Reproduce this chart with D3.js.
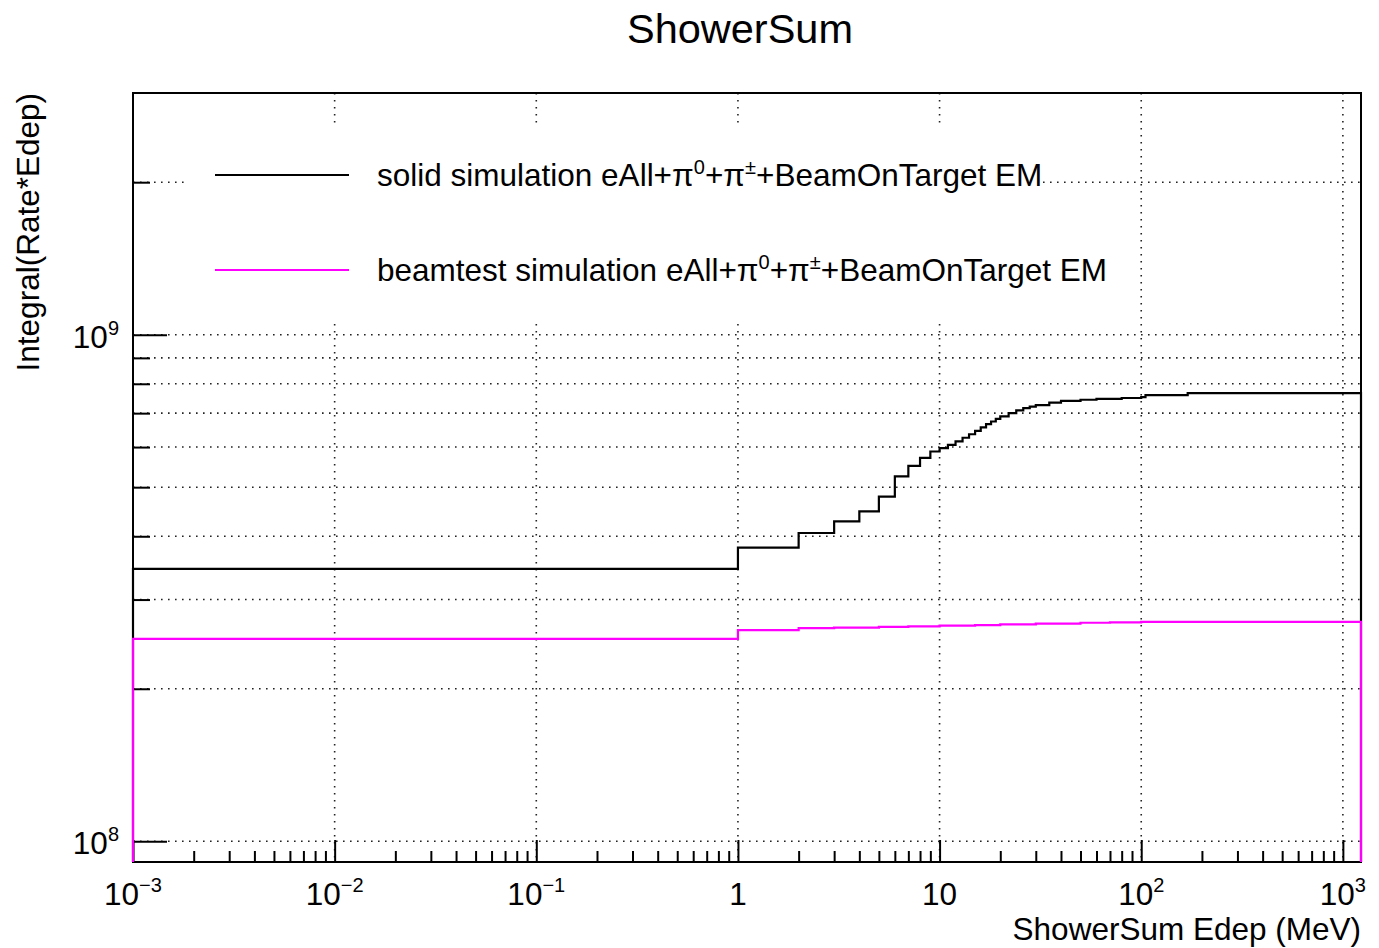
<!DOCTYPE html>
<html>
<head>
<meta charset="utf-8">
<script src="https://cdn.jsdelivr.net/npm/d3@7"></script>
<style>
  html, body { margin: 0; padding: 0; background: #fff; }
  svg { display: block; font-family: "Liberation Sans", Arial, Helvetica, sans-serif; }
</style>
</head>
<body>
<svg id="chart" width="1379" height="948"></svg>
<script>
// Cumulative ShowerSum histograms: bin lower edges (MeV) and integral per bin.
const solidEdges = [0.001, 1, 2, 3, 4, 5, 6, 7, 8, 9, 10, 11, 12, 13, 14, 15, 16, 17, 18, 19,
                    20, 22, 24, 26, 28, 30, 35, 40, 50, 60, 80, 100, 105, 170];
const solidValues = [3.45e8, 3.80e8, 4.06e8, 4.28e8, 4.48e8, 4.79e8, 5.25e8, 5.51e8, 5.71e8, 5.88e8,
                     5.97e8, 6.06e8, 6.16e8, 6.26e8, 6.36e8, 6.46e8, 6.56e8, 6.66e8, 6.74e8, 6.82e8,
                     6.90e8, 7.00e8, 7.09e8, 7.16e8, 7.21e8, 7.26e8, 7.34e8, 7.40e8, 7.44e8, 7.47e8,
                     7.50e8, 7.53e8, 7.60e8, 7.67e8];
const beamEdges = [0.001, 1, 2, 3, 5, 7, 10, 15, 20, 30, 50, 70, 100];
const beamValues = [2.51e8, 2.61e8, 2.635e8, 2.64e8, 2.65e8, 2.655e8, 2.665e8, 2.67e8, 2.68e8,
                    2.69e8, 2.70e8, 2.705e8, 2.71e8];
const histEnd = 1230;

// Axis ranges and labels
const xDomain = [0.001, 1230];
const yDomain = [9.1e7, 3.0e9];
const xMajorTicks = [0.001, 0.01, 0.1, 1, 10, 100, 1000];
const xTickLabels = [["10", "−3"], ["10", "−2"], ["10", "−1"], ["1", ""], ["10", ""], ["10", "2"], ["10", "3"]];
const yMajorTicks = [1e8, 1e9];
const yTickLabels = [["10", "8"], ["10", "9"]];
const yMinorTicks = [2e8, 3e8, 4e8, 5e8, 6e8, 7e8, 8e8, 9e8, 2e9];
const legendLabels = [
  ["solid simulation eAll+π", "0", "+π", "±", "+BeamOnTarget EM"],
  ["beamtest simulation eAll+π", "0", "+π", "±", "+BeamOnTarget EM"]
];
const seriesColors = ["#000000", "#ff00ff"];
const titleText = "ShowerSum";
const xTitle = "ShowerSum Edep (MeV)";
const yTitle = "Integral(Rate*Edep)";

const plot = { left: 133, right: 1361, top: 93, bottom: 862 };
const svg = d3.select("#chart");
const fs = 31.5, supFs = 20;

const x = d3.scaleLog().domain(xDomain).range([plot.left, plot.right]);
const y = d3.scaleLog().domain(yDomain).range([plot.bottom, plot.top]);

// minor x ticks: 2..9 within each decade
const xMinorTicks = [];
for (let d = -3; d <= 3; d++) {
  for (let k = 2; k <= 9; k++) {
    const v = k * Math.pow(10, d);
    if (v < xDomain[1]) xMinorTicks.push(v);
  }
}

// grid (dotted)
const grid = svg.append("g").attr("stroke", "#222").attr("stroke-width", 1.6)
  .attr("stroke-dasharray", "1.6,5.4").attr("fill", "none");
xMajorTicks.filter(v => v > xDomain[0]).forEach(v => {
  grid.append("line").attr("x1", x(v)).attr("x2", x(v)).attr("y1", plot.top).attr("y2", plot.bottom);
});
yMajorTicks.concat(yMinorTicks).forEach(v => {
  grid.append("line").attr("x1", plot.left).attr("x2", plot.right).attr("y1", y(v)).attr("y2", y(v));
});

// axes with ticks
const axisG = svg.append("g");
axisG.append("g").attr("transform", `translate(0,${plot.bottom})`)
  .call(d3.axisTop(x).tickValues(xMajorTicks).tickSize(22).tickFormat("").tickSizeOuter(0))
  .call(g => g.select(".domain").remove());
axisG.append("g").attr("transform", `translate(0,${plot.bottom})`)
  .call(d3.axisTop(x).tickValues(xMinorTicks).tickSize(11).tickFormat("").tickSizeOuter(0))
  .call(g => g.select(".domain").remove());
axisG.append("g").attr("transform", `translate(${plot.left},0)`)
  .call(d3.axisRight(y).tickValues(yMajorTicks).tickSize(34).tickFormat("").tickSizeOuter(0))
  .call(g => g.select(".domain").remove());
axisG.append("g").attr("transform", `translate(${plot.left},0)`)
  .call(d3.axisRight(y).tickValues(yMinorTicks).tickSize(17).tickFormat("").tickSizeOuter(0))
  .call(g => g.select(".domain").remove());
axisG.selectAll(".tick line").attr("stroke", "#000").attr("stroke-width", 2);

// frame
svg.append("rect").attr("x", plot.left).attr("y", plot.top)
  .attr("width", plot.right - plot.left).attr("height", plot.bottom - plot.top)
  .attr("fill", "none").attr("stroke", "#000").attr("stroke-width", 2);

// histogram outlines as step paths
function stepPoints(edges, values) {
  const pts = [[edges[0], yDomain[0]]];
  values.forEach((v, i) => {
    const lo = edges[i];
    const hi = i + 1 < edges.length ? edges[i + 1] : histEnd;
    pts.push([lo, v], [hi, v]);
  });
  pts.push([histEnd, yDomain[0]]);
  return pts;
}
const line = d3.line().x(d => x(d[0])).y(d => y(d[1]));
svg.append("defs").append("clipPath").attr("id", "plotclip")
  .append("rect").attr("x", plot.left - 2).attr("y", plot.top).attr("width", plot.right - plot.left + 4)
  .attr("height", plot.bottom - plot.top);
const curves = svg.append("g").attr("clip-path", "url(#plotclip)");
[[solidEdges, solidValues], [beamEdges, beamValues]].forEach(([e, v], i) => {
  curves.append("path").attr("d", line(stepPoints(e, v)))
    .attr("fill", "none").attr("stroke", seriesColors[i]).attr("stroke-width", 2.2)
    .attr("stroke-linejoin", "miter");
});

// tick labels
const xl = svg.append("g").attr("font-size", fs).attr("fill", "#000").attr("text-anchor", "middle");
xMajorTicks.forEach((v, i) => {
  const t = xl.append("text").attr("x", x(v)).attr("y", 905);
  t.append("tspan").text(xTickLabels[i][0]);
  if (xTickLabels[i][1]) t.append("tspan").attr("dy", -13).attr("font-size", supFs).text(xTickLabels[i][1]);
});
const yl = svg.append("g").attr("font-size", fs).attr("fill", "#000").attr("text-anchor", "end");
yMajorTicks.forEach((v, i) => {
  const t = yl.append("text").attr("x", 119).attr("y", y(v) + 13);
  t.append("tspan").text(yTickLabels[i][0]);
  t.append("tspan").attr("dy", -13).attr("font-size", supFs).text(yTickLabels[i][1]);
});

// titles
svg.append("text").attr("x", 740).attr("y", 43).attr("text-anchor", "middle")
  .attr("font-size", 41.5).text(titleText);
svg.append("text").attr("x", plot.right).attr("y", 940).attr("text-anchor", "end")
  .attr("font-size", fs).text(xTitle);
svg.append("text").attr("transform", `translate(39,${plot.top}) rotate(-90)`)
  .attr("text-anchor", "end").attr("font-size", fs).text(yTitle);

// legend
const legend = svg.append("g");
legend.append("rect").attr("x", 184).attr("y", 127).attr("width", 856).attr("height", 193).attr("fill", "#fff");
const legendY = [175, 270];
legendLabels.forEach((parts, i) => {
  legend.append("line").attr("x1", 215).attr("x2", 349).attr("y1", legendY[i]).attr("y2", legendY[i])
    .attr("stroke", seriesColors[i]).attr("stroke-width", 2);
  const t = legend.append("text").attr("x", 377).attr("y", legendY[i] + 11).attr("font-size", fs);
  t.append("tspan").text(parts[0]);
  t.append("tspan").attr("dy", -12).attr("font-size", supFs).text(parts[1]);
  t.append("tspan").attr("dy", 12).text(parts[2]);
  t.append("tspan").attr("dy", -12).attr("font-size", supFs).text(parts[3]);
  t.append("tspan").attr("dy", 12).text(parts[4]);
});
</script>
</body>
</html>
